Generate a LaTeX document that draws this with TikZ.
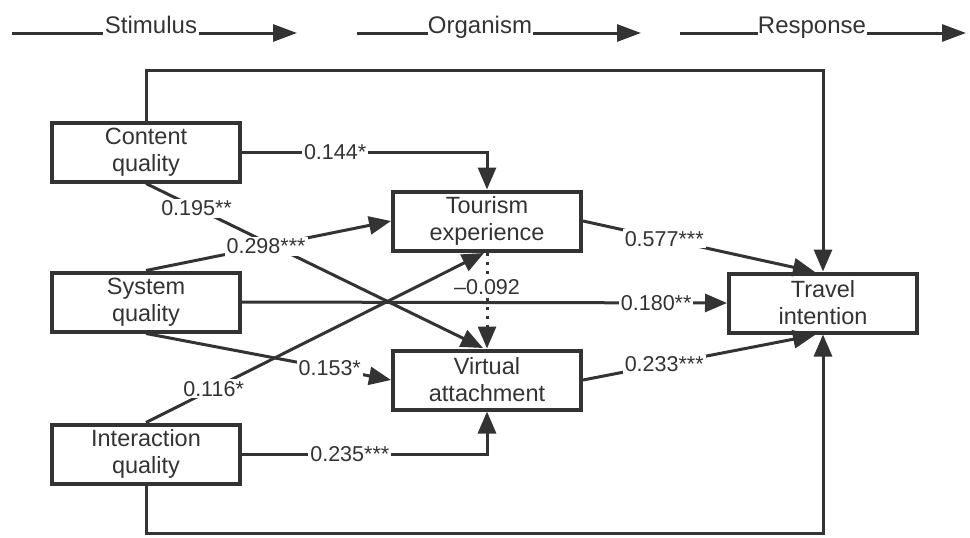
\documentclass[tikz,border=0pt]{standalone}
\usepackage{fontspec}
\setmainfont{Liberation Sans}
\usetikzlibrary{arrows.meta}
\definecolor{ink}{HTML}{333333}
\begin{document}
\begin{tikzpicture}[x=1pt,y=-1pt,
  box/.style={draw=ink, line width=4pt, minimum width=188pt, minimum height=59pt,
    align=center, inner sep=0pt, text=ink, font=\fontsize{23.5}{27}\selectfont},
  conn/.style={draw=ink, line width=3pt, -{Triangle[length=22pt,width=18pt]}},
  plain/.style={draw=ink, line width=3pt},
  lbl/.style={fill=white, inner sep=2pt, text=ink, font=\fontsize{21.5}{24}\selectfont},
  hdr/.style={anchor=base, inner sep=1pt, text=ink, font=\fontsize{24}{26}\selectfont},
  harrow/.style={draw=ink, line width=3pt, -{Triangle[length=24pt,width=17pt]}},
  dotline/.style={draw=ink, line width=3pt, dash pattern=on 3pt off 6pt,
    -{Triangle[length=22pt,width=18pt]}}]
\useasboundingbox (0,0) rectangle (970,538);

% header
\node[hdr] (hs) at (151,33) {Stimulus};
\node[hdr] (ho) at (480,33) {Organism};
\node[hdr] (hr) at (812,33) {Response};
\coordinate (s0) at (12,33);   \coordinate (s1) at (103,33);
\coordinate (s2) at (199,33);  \coordinate (s3) at (297,33);
\coordinate (o0) at (357,33);  \coordinate (o1) at (428,33);
\coordinate (o2) at (533,33);  \coordinate (o3) at (641,33);
\coordinate (r0) at (680,33);  \coordinate (r1) at (758,33);
\coordinate (r2) at (867,33);  \coordinate (r3) at (966,33);
\draw[plain] (s0) -- (s1);
\draw[harrow] (s2) -- (s3);
\draw[plain] (o0) -- (o1);
\draw[harrow] (o2) -- (o3);
\draw[plain] (r0) -- (r1);
\draw[harrow] (r2) -- (r3);

% boxes
\node[box] (cq) at (146,152) {Content\\quality};
\node[box] (sq) at (146,302) {System\\quality};
\node[box] (iq) at (146,454) {Interaction\\quality};
\node[box] (te) at (487,221) {Tourism\\experience};
\node[box] (va) at (487,380) {Virtual\\attachment};
\node[box] (ti) at (823,303) {Travel\\intention};

\coordinate (topc) at (823,70);
\coordinate (botc) at (823,533);
\coordinate (ttl) at (815,272);
\coordinate (tbl) at (815,335);
\coordinate (vatop) at (483,348);
\coordinate (tebot) at (484,253);

% connectors
\draw[conn] (cq.north) |- (topc) -- (ti.north);
\draw[conn] (iq.south) |- (botc) -- (ti.south);
\draw[conn] (cq.east) -| node[lbl, pos=0.19] {0.144*} (te.north);
\draw[conn] (cq.south) -- node[lbl, pos=0.15] {0.195**} (vatop);
\draw[conn] (sq.north) -- node[lbl, pos=0.49] {0.298***} (te.west);
\draw[conn] (sq.east) -- node[lbl, pos=0.854] {0.180**} (ti.west);
\draw[conn] (sq.south) -- node[lbl, pos=0.75] {0.153*} (va.west);
\draw[conn] (iq.north) -- node[lbl, pos=0.2] {0.116*} (tebot);
\draw[conn] (iq.east) -| node[lbl, pos=0.22] {0.235***} (va.south);
\draw[dotline] (te.south) -- node[lbl, inner sep=1pt, pos=0.36] {–0.092} (va.north);
\draw[conn] (te.east) -- node[lbl, pos=0.35] {0.577***} (ttl);
\draw[conn] (va.east) -- node[lbl, pos=0.35] {0.233***} (tbl);
\end{tikzpicture}
\end{document}
